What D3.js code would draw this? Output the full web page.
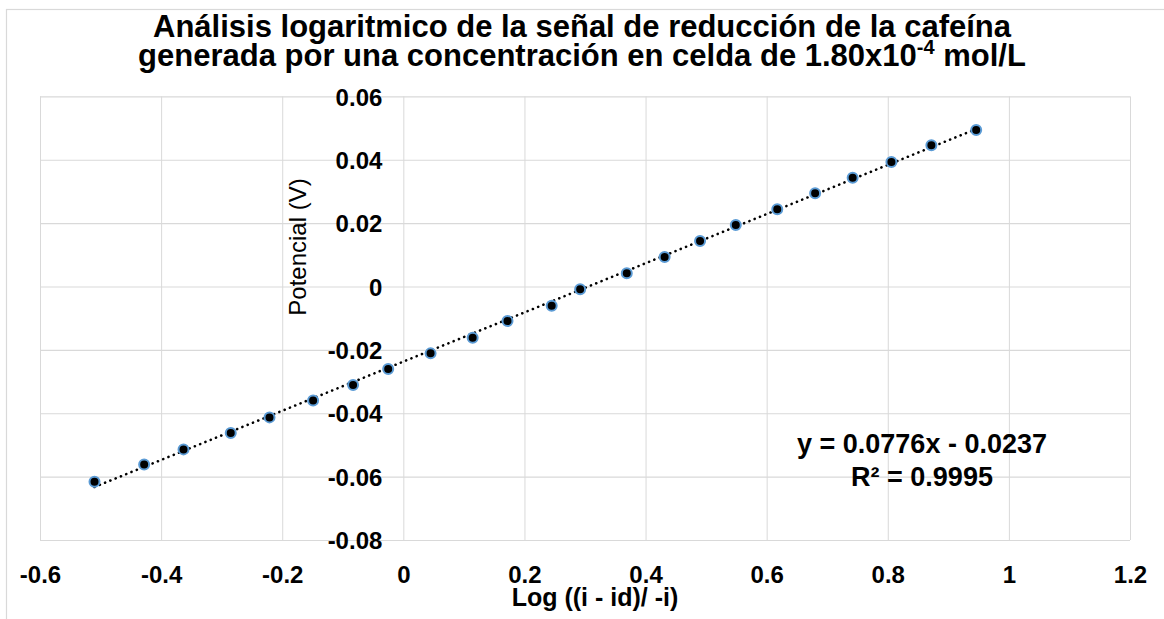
<!DOCTYPE html>
<html>
<head>
<meta charset="utf-8">
<script src="https://cdn.jsdelivr.net/npm/d3@7/dist/d3.min.js"></script>
<style>
body { margin: 0; background: #fff; }
svg text { font-family: Arial, "Liberation Sans", sans-serif; fill: #000; }
</style>
</head>
<body>
<svg id="chart" width="1164" height="619"></svg>
<script>
// valores
var logRatio = [-0.510, -0.428, -0.363, -0.285, -0.221, -0.149, -0.083, -0.025, 0.045, 0.1145, 0.172, 0.245,
                0.292, 0.369, 0.4315, 0.490, 0.549, 0.6175, 0.680, 0.742, 0.806, 0.872, 0.946];
var potencial = [-0.0616, -0.0562, -0.0514, -0.0462, -0.0413, -0.0360, -0.0311, -0.0260, -0.0211, -0.0162, -0.0109, -0.0061,
                 -0.0009, 0.0042, 0.0093, 0.0144, 0.0194, 0.0244, 0.0294, 0.0343, 0.0393, 0.0446, 0.0494];
var xTicks = [-0.6, -0.4, -0.2, 0, 0.2, 0.4, 0.6, 0.8, 1, 1.2];
var yTicks = [-0.08, -0.06, -0.04, -0.02, 0, 0.02, 0.04, 0.06];
var slope = 0.0776, intercept = -0.0237;
var eqLines = ["y = 0.0776x - 0.0237", "R² = 0.9995"];
var titleLine1 = "Análisis logaritmico de la señal de reducción de la cafeína";
var titleLine2 = ["generada por una concentración en celda de 1.80x10", "-4", " mol/L"];
var xTitle = "Log ((i - id)/ -i)";
var yTitle = "Potencial (V)";

var svg = d3.select("#chart");
var grid = "#d9d9d9";

var x = d3.scaleLinear().domain([-0.6, 1.2]).range([40, 1130]);
var y = d3.scaleLinear().domain([-0.08, 0.06]).range([540, 96.4]);

// borde del area del grafico (se sale del recorte a la derecha y abajo)
svg.append("rect").attr("x", 6.5).attr("y", 9.5).attr("width", 1300).attr("height", 700)
    .attr("fill", "none").attr("stroke", grid).attr("stroke-width", 1.2);

// cuadricula
svg.append("g").attr("class", "xgrid").attr("transform", "translate(0," + y(-0.08) + ")")
    .call(d3.axisBottom(x).tickValues(xTicks).tickSize(-(y(-0.08) - y(0.06))).tickFormat(""))
    .call(g => g.select(".domain").remove())
    .selectAll("line").attr("stroke", grid).attr("stroke-width", 1);
svg.append("g").attr("class", "ygrid").attr("transform", "translate(" + x(-0.6) + ",0)")
    .call(d3.axisLeft(y).tickValues(yTicks).tickSize(-(x(1.2) - x(-0.6))).tickFormat(""))
    .call(g => g.select(".domain").remove())
    .selectAll("line").attr("stroke", grid).attr("stroke-width", 1.2);

// etiquetas de ejes
svg.append("g").attr("class", "xaxis").attr("transform", "translate(0,565)")
    .call(d3.axisBottom(x).tickValues(xTicks).tickSize(0).tickPadding(0).tickFormat(d => String(d)))
    .call(g => g.select(".domain").remove())
    .selectAll("text").attr("dy", "0.75em").style("font-size", "24px").style("font-weight", "bold")
    .attr("fill", "#000");

svg.append("g").attr("class", "yaxis").attr("transform", "translate(" + x(0) + ",0)")
    .call(d3.axisLeft(y).tickValues(yTicks).tickSize(0).tickPadding(21).tickFormat(d => String(d)))
    .call(g => g.select(".domain").remove())
    .selectAll("text").attr("dy", "0.36em").style("font-size", "24px").style("font-weight", "bold")
    .attr("fill", "#000");

// linea de tendencia
var trendX = d3.extent(logRatio);
svg.append("path")
    .attr("d", d3.line()(trendX.map(v => [x(v), y(slope * v + intercept)])))
    .attr("fill", "none").attr("stroke", "#000").attr("stroke-width", 2.6)
    .attr("stroke-linecap", "round").attr("stroke-dasharray", "0.1 5.6");

// puntos
svg.append("g").selectAll("circle")
    .data(logRatio.map((v, i) => [v, potencial[i]]))
    .join("circle")
    .attr("cx", d => x(d[0])).attr("cy", d => y(d[1])).attr("r", 5)
    .attr("fill", "#000").attr("stroke", "#5b9bd5").attr("stroke-width", 2);

// titulo
var title = svg.append("text").attr("text-anchor", "middle").style("font-size", "31px").style("font-weight", "bold");
title.append("tspan").attr("x", 582).attr("y", 37).text(titleLine1);
title.append("tspan").attr("x", 582).attr("y", 66).text(titleLine2[0]);
title.append("tspan").attr("dy", -12).style("font-size", "20px").text(titleLine2[1]);
title.append("tspan").attr("dy", 12).text(titleLine2[2]);

// titulos de ejes
svg.append("text").attr("x", 595).attr("y", 606).attr("text-anchor", "middle")
    .style("font-size", "25px").style("font-weight", "bold").text(xTitle);
svg.append("text").attr("transform", "translate(306,247) rotate(-90)").attr("text-anchor", "middle")
    .style("font-size", "24px").text(yTitle);

// ecuacion
svg.append("g").selectAll("text").data(eqLines).join("text")
    .attr("x", 922).attr("y", (d, i) => 453 + i * 33).attr("text-anchor", "middle")
    .style("font-size", "27px").style("font-weight", "bold").text(d => d);
</script>
</body>
</html>
